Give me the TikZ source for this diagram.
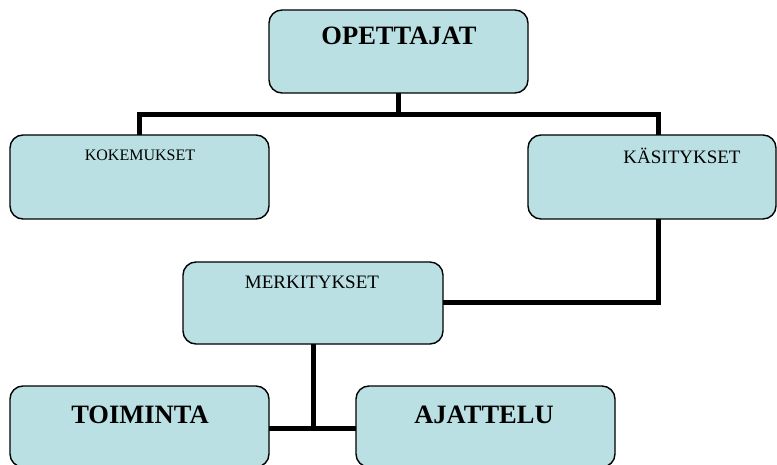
\documentclass[tikz,border=0pt]{standalone}
\usepackage{fontspec}
\setmainfont{Liberation Serif}
\definecolor{boxfill}{HTML}{BAE0E3}
\begin{document}
\begin{tikzpicture}[x=1pt,y=-1pt,
  box/.style={draw=black, line width=1.4pt, fill=boxfill, rounded corners=13pt, inner sep=0pt, outer sep=0pt},
  conn/.style={draw=black, line width=5pt, line join=miter},
  big/.style={anchor=base, inner sep=0pt, font=\fontsize{26.5}{30}\selectfont\bfseries},
  mid/.style={anchor=base, inner sep=0pt, font=\fontsize{19}{22}\selectfont},
  small/.style={anchor=base, inner sep=0pt, font=\fontsize{16}{19}\selectfont}]
\useasboundingbox[fill=white] (0,0) rectangle (777,465);
% boxes
\node[box, minimum width=259pt, minimum height=83pt] (ope) at (398.5,51.5) {};
\node[box, minimum width=259pt, minimum height=84pt] (kok) at (139.5,177) {};
\node[box, minimum width=248pt, minimum height=84pt] (ksi) at (652,177) {};
\node[box, minimum width=260pt, minimum height=82pt] (mer) at (313,303) {};
\node[box, minimum width=259pt, minimum height=81pt] (toi) at (139.5,426.5) {};
\node[box, minimum width=259pt, minimum height=81pt] (aja) at (485.5,426.5) {};
% junctions
\coordinate (j1) at (398.5,115);
\coordinate (j3) at (313,428);
% connectors
\draw[conn] (ope.south) -- (j1);
\draw[conn] (kok.north) |- (j1) -| ([xshift=6pt]ksi.north);
\draw[conn] ([xshift=6pt]ksi.south) |- (mer.east);
\draw[conn] (mer.south) -- (j3);
\draw[conn] (toi.east |- j3) -- (aja.west |- j3);
% texts
\node[big] (t1) at (399,45) {OPETTAJAT};
\node[small] (t2) at (140,161) {KOKEMUKSET};
\node[mid] (t3) at (682,164) {KÄSITYKSET};
\node[mid] (t4) at (312,289) {MERKITYKSET};
\node[big] (t5) at (140,423) {TOIMINTA};
\node[big] (t6) at (484,423) {AJATTELU};
\end{tikzpicture}
\end{document}
